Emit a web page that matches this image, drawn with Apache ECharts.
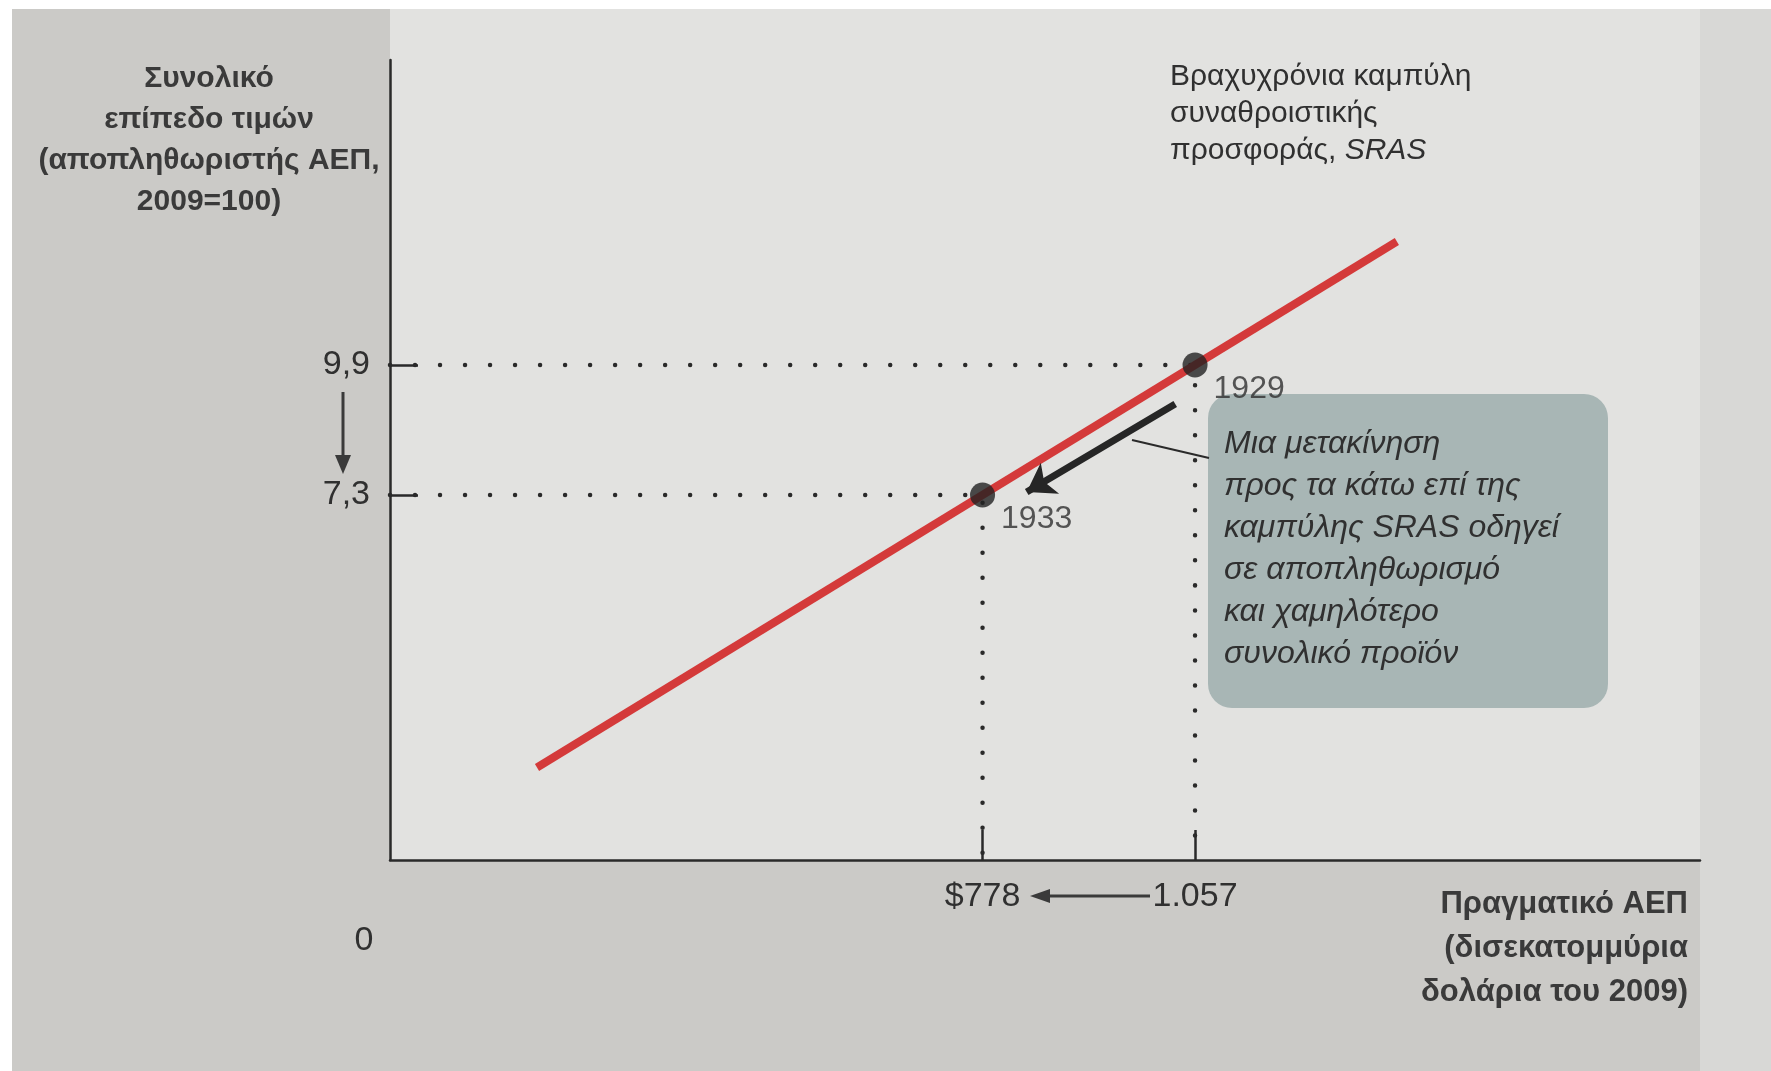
<!DOCTYPE html>
<html><head><meta charset="utf-8">
<script src="https://cdn.jsdelivr.net/npm/echarts@6/dist/echarts.min.js"></script>
<style>html,body{margin:0;padding:0;background:#fff}#c{width:1771px;height:1071px}</style>
</head><body><div id="c"></div>
<script>
// ---- data ----
const xTickValues = [778, 1057];
const xTickLabels = ['$778', '1.057'];
const yTickValues = [7.3, 9.9];
const yTickLabels = ['7,3', '9,9'];
const srasLine = [[193, 1.85], [1322, 12.37]];
const years = ['1929', '1933'];
const yearGDP = [1057, 778];
const yearPrice = [9.9, 7.3];
const movementArrow = [[1031, 9.12], [836, 7.36]];

const yTitle = 'Συνολικό\nεπίπεδο τιμών\n(αποπληθωριστής ΑΕΠ,\n2009=100)';
const xTitle = 'Πραγματικό ΑΕΠ\n(δισεκατομμύρια\nδολάρια του 2009)';
const srasTitle = 'Βραχυχρόνια καμπύλη\nσυναθροιστικής\nπροσφοράς, ';
const boxText = 'Μια μετακίνηση\nπρος τα κάτω επί της\nκαμπύλης SRAS οδηγεί\nσε αποπληθωρισμό\nκαι χαμηλότερο\nσυνολικό προϊόν';

const FONT = '"Liberation Sans", Arial, sans-serif';
const INK = '#303030';
const OUTER = '#cbcac7';
const PLOT = '#e2e2e0';
const EDGE = '#d8d8d6';
const BOX = '#a8b6b5';

const chart = echarts.init(document.getElementById('c'), null, {renderer: 'canvas'});

const guideSeries = yearGDP.map((g, i) => ({
  type: 'line', silent: true, symbol: 'none', z: 2,
  data: [[0, yearPrice[i]], [g, yearPrice[i]], [g, 0]],
  lineStyle: {color: '#2a2a2a', width: 4.5, type: [0.01, 25], cap: 'round'}
}));

const option = {
  backgroundColor: '#ffffff',
  animation: false,
  grid: {left: 390, right: 71, top: 60, bottom: 211, containLabel: false},
  xAxis: {
    type: 'value', min: 0, max: 1720,
    splitLine: {show: false},
    axisLine: {show: true, onZero: false, lineStyle: {color: '#2a2a2a', width: 2.5}},
    axisTick: {show: true, inside: true, length: 30, customValues: xTickValues, lineStyle: {color: '#2a2a2a', width: 2.5}},
    axisLabel: {
      show: true, margin: 20, customValues: [0].concat(xTickValues),
      fontFamily: FONT, fontSize: 34, color: INK,
      formatter: v => v === 0 ? '{o|0}' : xTickLabels[xTickValues.indexOf(v)],
      rich: {o: {fontFamily: FONT, fontSize: 34, color: INK, padding: [44, 52, 0, 0]}}
    }
  },
  yAxis: {
    type: 'value', min: 0, max: 16,
    splitLine: {show: false},
    axisLine: {show: true, onZero: false, lineStyle: {color: '#2a2a2a', width: 2.5}},
    axisTick: {show: true, inside: true, length: 28, customValues: yTickValues, lineStyle: {color: '#2a2a2a', width: 2.5}},
    axisLabel: {
      show: true, margin: 20, customValues: yTickValues,
      fontFamily: FONT, fontSize: 34, color: INK,
      formatter: v => yTickLabels[yTickValues.indexOf(v)]
    }
  },
  series: guideSeries.concat([
    {
      type: 'line', name: 'SRAS', symbol: 'none', z: 3, silent: true,
      data: srasLine,
      lineStyle: {color: '#d43a3a', width: 8}
    },
    {
      type: 'lines', coordinateSystem: 'cartesian2d', z: 4, silent: true,
      symbol: ['none', 'arrow'], symbolSize: 27,
      data: [{coords: movementArrow}],
      lineStyle: {color: '#262626', width: 7, opacity: 1}
    },
    {
      type: 'scatter', z: 5, symbolSize: 25, silent: true,
      itemStyle: {color: '#222222'},
      data: yearGDP.map((g, i) => [g, yearPrice[i]]),
      label: {
        show: true, position: 'right', distance: 6, offset: [0, 24],
        fontFamily: FONT, fontSize: 32, color: INK,
        formatter: p => years[p.dataIndex]
      }
    }
  ]),
  graphic: [
    {type: 'rect', z: -10, silent: true, shape: {x: 12, y: 9, width: 1759, height: 1062}, style: {fill: OUTER}},
    {type: 'rect', z: -9, silent: true, shape: {x: 1700, y: 9, width: 71, height: 1062}, style: {fill: EDGE}},
    {type: 'rect', z: -9, silent: true, shape: {x: 390, y: 9, width: 1310, height: 851}, style: {fill: PLOT}},
    {type: 'text', silent: true, x: 209, y: 58, style: {
      text: yTitle, fill: '#3a3a3a', font: 'bold 30px ' + FONT, lineHeight: 41, align: 'center', textAlign: 'center'}},
    {type: 'text', silent: true, x: 1688, y: 882, style: {
      text: xTitle, fill: '#3a3a3a', font: 'bold 31px ' + FONT, lineHeight: 44, align: 'right', textAlign: 'right'}},
    {type: 'text', silent: true, x: 1170, y: 58, style: {
      text: srasTitle + '{i|SRAS}', fill: INK, font: '30px ' + FONT, lineHeight: 37,
      rich: {i: {fontStyle: 'italic', fontSize: 30, fontFamily: FONT, fill: INK, lineHeight: 37}}}},
    {type: 'rect', silent: true, shape: {x: 1208, y: 394, width: 400, height: 314, r: 24}, style: {fill: BOX}},
    {type: 'text', silent: true, x: 1224, y: 423, style: {
      text: boxText, fill: INK, font: 'italic 32px ' + FONT, lineHeight: 42}},
    {type: 'line', silent: true, shape: {x1: 1132, y1: 440, x2: 1209, y2: 458}, style: {stroke: '#2a2a2a', lineWidth: 2}},
    {type: 'line', silent: true, shape: {x1: 343, y1: 392, x2: 343, y2: 460}, style: {stroke: '#3a3a3a', lineWidth: 3}},
    {type: 'polygon', silent: true, shape: {points: [[335, 455], [351, 455], [343, 474]]}, style: {fill: '#3a3a3a'}},
    {type: 'line', silent: true, shape: {x1: 1150, y1: 896, x2: 1045, y2: 896}, style: {stroke: '#3a3a3a', lineWidth: 3}},
    {type: 'polygon', silent: true, shape: {points: [[1030, 896], [1050, 889], [1050, 903]]}, style: {fill: '#3a3a3a'}}
  ]
};
chart.setOption(option);
</script>
</body></html>
